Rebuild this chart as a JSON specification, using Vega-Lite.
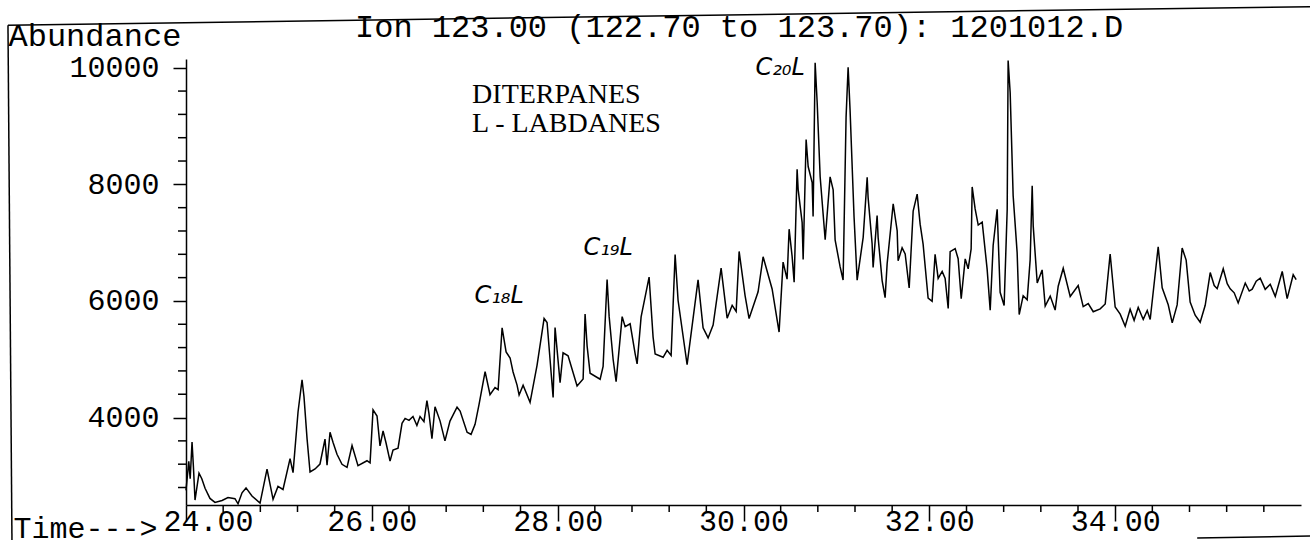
{
  "$schema": "https://vega.github.io/schema/vega-lite/v6.json",
  "width": 1115,
  "height": 446,
  "autosize": {"type": "none"},
  "padding": {"left": 186, "top": 59, "right": 9, "bottom": 35},
  "background": "white",
  "config": {"view": {"stroke": null}, "font": "Liberation Mono", "axis": {"labelOverlap": false}},
  "layer": [
    {
      "data": {
        "values": [
          {"t":24.000,"a":2750},{"t":24.030,"a":3250},{"t":24.045,"a":2950},{"t":24.065,"a":3580},{"t":24.080,"a":3150},{"t":24.097,"a":2585},{"t":24.140,"a":3045},{"t":24.170,"a":2950},{"t":24.205,"a":2786},{"t":24.258,"a":2613},{"t":24.312,"a":2545},{"t":24.388,"a":2577},{"t":24.452,"a":2627},{"t":24.527,"a":2608},{"t":24.560,"a":2521},{"t":24.603,"a":2709},{"t":24.646,"a":2793},{"t":24.710,"a":2654},{"t":24.797,"a":2533},{"t":24.872,"a":3114},{"t":24.937,"a":2598},{"t":24.990,"a":2819},{"t":25.044,"a":2766},{"t":25.120,"a":3295},{"t":25.152,"a":3055},{"t":25.206,"a":4099},{"t":25.249,"a":4648},{"t":25.270,"a":4355},{"t":25.303,"a":3635},{"t":25.335,"a":3067},{"t":25.389,"a":3119},{"t":25.442,"a":3203},{"t":25.496,"a":3630},{"t":25.518,"a":3184},{"t":25.550,"a":3748},{"t":25.582,"a":3577},{"t":25.625,"a":3369},{"t":25.679,"a":3198},{"t":25.733,"a":3145},{"t":25.787,"a":3520},{"t":25.851,"a":3175},{"t":25.948,"a":3259},{"t":25.981,"a":3223},{"t":26.013,"a":4132},{"t":26.056,"a":4027},{"t":26.088,"a":3513},{"t":26.121,"a":3769},{"t":26.153,"a":3563},{"t":26.196,"a":3253},{"t":26.228,"a":3441},{"t":26.282,"a":3474},{"t":26.325,"a":3902},{"t":26.358,"a":3986},{"t":26.400,"a":3952},{"t":26.443,"a":4019},{"t":26.485,"a":3863},{"t":26.519,"a":4017},{"t":26.561,"a":3930},{"t":26.593,"a":4290},{"t":26.615,"a":4067},{"t":26.647,"a":3637},{"t":26.680,"a":4185},{"t":26.734,"a":3943},{"t":26.787,"a":3599},{"t":26.841,"a":3940},{"t":26.917,"a":4178},{"t":26.950,"a":4110},{"t":27.025,"a":3748},{"t":27.068,"a":3712},{"t":27.111,"a":3883},{"t":27.154,"a":4225},{"t":27.219,"a":4789},{"t":27.272,"a":4393},{"t":27.326,"a":4513},{"t":27.359,"a":4477},{"t":27.402,"a":5539},{"t":27.445,"a":5126},{"t":27.488,"a":5022},{"t":27.520,"a":4782},{"t":27.563,"a":4557},{"t":27.585,"a":4386},{"t":27.628,"a":4555},{"t":27.703,"a":4262},{"t":27.778,"a":4895},{"t":27.854,"a":5699},{"t":27.886,"a":5630},{"t":27.951,"a":4343},{"t":27.972,"a":5543},{"t":28.026,"a":4598},{"t":28.058,"a":5111},{"t":28.112,"a":5059},{"t":28.209,"a":4542},{"t":28.274,"a":4660},{"t":28.295,"a":5774},{"t":28.317,"a":5226},{"t":28.349,"a":4761},{"t":28.457,"a":4657},{"t":28.489,"a":4878},{"t":28.532,"a":6369},{"t":28.554,"a":5735},{"t":28.597,"a":4996},{"t":28.629,"a":4617},{"t":28.694,"a":5731},{"t":28.726,"a":5558},{"t":28.780,"a":5608},{"t":28.834,"a":5094},{"t":28.855,"a":4921},{"t":28.898,"a":5726},{"t":28.984,"a":6410},{"t":29.027,"a":5380},{"t":29.049,"a":5089},{"t":29.135,"a":5034},{"t":29.178,"a":5154},{"t":29.221,"a":5066},{"t":29.264,"a":6798},{"t":29.296,"a":6007},{"t":29.393,"a":4909},{"t":29.511,"a":6362},{"t":29.565,"a":5538},{"t":29.619,"a":5366},{"t":29.673,"a":5587},{"t":29.759,"a":6563},{"t":29.824,"a":5704},{"t":29.878,"a":5925},{"t":29.921,"a":5822},{"t":29.953,"a":6849},{"t":30.017,"a":6093},{"t":30.060,"a":5697},{"t":30.157,"a":6158},{"t":30.211,"a":6757},{"t":30.308,"a":6206},{"t":30.383,"a":5467},{"t":30.426,"a":6666},{"t":30.469,"a":6374},{"t":30.491,"a":7231},{"t":30.523,"a":6768},{"t":30.545,"a":6323},{"t":30.577,"a":8257},{"t":30.588,"a":7914},{"t":30.631,"a":7348},{"t":30.642,"a":6712},{"t":30.674,"a":8769},{"t":30.696,"a":8306},{"t":30.739,"a":8030},{"t":30.749,"a":7447},{"t":30.771,"a":10087},{"t":30.793,"a":9400},{"t":30.825,"a":8131},{"t":30.879,"a":7050},{"t":30.932,"a":8128},{"t":30.965,"a":7905},{"t":30.986,"a":7048},{"t":31.040,"a":6583},{"t":31.072,"a":6359},{"t":31.104,"a":9153},{"t":31.126,"a":10010},{"t":31.147,"a":9271},{"t":31.190,"a":7437},{"t":31.223,"a":6357},{"t":31.288,"a":7091},{"t":31.331,"a":8119},{"t":31.341,"a":7777},{"t":31.384,"a":6986},{"t":31.395,"a":6575},{"t":31.438,"a":7465},{"t":31.449,"a":7087},{"t":31.492,"a":6350},{"t":31.524,"a":6057},{"t":31.546,"a":6640},{"t":31.611,"a":7667},{"t":31.654,"a":7202},{"t":31.664,"a":6688},{"t":31.707,"a":6911},{"t":31.740,"a":6806},{"t":31.783,"a":6223},{"t":31.826,"a":7542},{"t":31.869,"a":7831},{"t":31.901,"a":7317},{"t":31.933,"a":6974},{"t":31.987,"a":6047},{"t":32.030,"a":5994},{"t":32.062,"a":6800},{"t":32.095,"a":6386},{"t":32.138,"a":6506},{"t":32.170,"a":6385},{"t":32.203,"a":5870},{"t":32.224,"a":6846},{"t":32.278,"a":6897},{"t":32.310,"a":6724},{"t":32.343,"a":6038},{"t":32.386,"a":6722},{"t":32.418,"a":6551},{"t":32.450,"a":6892},{"t":32.461,"a":7955},{"t":32.493,"a":7578},{"t":32.526,"a":7302},{"t":32.569,"a":7353},{"t":32.622,"a":6546},{"t":32.655,"a":5841},{"t":32.687,"a":6955},{"t":32.730,"a":7571},{"t":32.762,"a":6148},{"t":32.805,"a":5923},{"t":32.838,"a":7569},{"t":32.848,"a":10123},{"t":32.870,"a":9573},{"t":32.902,"a":7807},{"t":32.945,"a":6829},{"t":32.967,"a":5766},{"t":33.010,"a":6090},{"t":33.053,"a":6021},{"t":33.085,"a":6705},{"t":33.107,"a":7974},{"t":33.118,"a":7288},{"t":33.161,"a":6309},{"t":33.214,"a":6532},{"t":33.247,"a":5913},{"t":33.301,"a":6083},{"t":33.354,"a":5843},{"t":33.387,"a":6253},{"t":33.441,"a":6560},{"t":33.516,"a":6078},{"t":33.602,"a":6265},{"t":33.656,"a":5903},{"t":33.710,"a":5954},{"t":33.764,"a":5815},{"t":33.839,"a":5865},{"t":33.893,"a":5949},{"t":33.946,"a":6805},{"t":34.000,"a":5896},{"t":34.054,"a":5774},{"t":34.108,"a":5567},{"t":34.161,"a":5858},{"t":34.204,"a":5668},{"t":34.248,"a":5889},{"t":34.302,"a":5683},{"t":34.345,"a":5836},{"t":34.377,"a":5682},{"t":34.463,"a":6930},{"t":34.506,"a":6227},{"t":34.571,"a":5934},{"t":34.614,"a":5623},{"t":34.667,"a":5932},{"t":34.721,"a":6908},{"t":34.764,"a":6700},{"t":34.807,"a":5980},{"t":34.861,"a":5755},{"t":34.915,"a":5634},{"t":34.969,"a":5925},{"t":35.023,"a":6487},{"t":35.066,"a":6265},{"t":35.098,"a":6211},{"t":35.163,"a":6553},{"t":35.206,"a":6295},{"t":35.238,"a":6208},{"t":35.281,"a":6139},{"t":35.324,"a":5966},{"t":35.400,"a":6307},{"t":35.443,"a":6170},{"t":35.475,"a":6203},{"t":35.518,"a":6340},{"t":35.561,"a":6390},{"t":35.615,"a":6199},{"t":35.669,"a":6285},{"t":35.723,"a":6078},{"t":35.798,"a":6505},{"t":35.851,"a":6040},{"t":35.916,"a":6450},{"t":35.948,"a":6364}
        ]
      },
      "mark": {"type": "line", "color": "black", "strokeWidth": 1.5, "interpolate": "linear"},
      "encoding": {
        "x": {
          "field": "t",
          "type": "quantitative",
          "scale": {"domain": [24, 36], "nice": false, "zero": false},
          "axis": {
            "title": "Time--->",
            "titleAnchor": "start",
            "titleAlign": "left",
            "titleBaseline": "alphabetic",
            "titleX": -173,
            "titleY": 32,
            "titleFont": "Liberation Mono",
            "titleFontSize": 30,
            "titleFontWeight": "normal",
            "titleColor": "black",
            "values": [24, 26, 28, 30, 32, 34],
            "format": ".2f",
            "labelFont": "Liberation Mono",
            "labelFontSize": 30,
            "labelColor": "black",
            "labelBaseline": "top",
            "labelPadding": -15,
            "labelOverlap": false,
            "labelFlush": false,
            "labelBound": false,
            "labelOffset": {"condition": {"test": "datum.value == 24", "value": 22}, "value": 0},
            "tickSize": 16,
            "tickColor": "black",
            "tickWidth": 1.5,
            "domainColor": "black",
            "domainWidth": 1.5,
            "grid": false
          }
        },
        "y": {
          "field": "a",
          "type": "quantitative",
          "scale": {"domain": [2500, 10150], "nice": false, "zero": false},
          "axis": {
            "title": "Abundance",
            "titleAngle": 0,
            "titleAlign": "left",
            "titleBaseline": "alphabetic",
            "titleX": -178,
            "titleY": -14,
            "titleFont": "Liberation Mono",
            "titleFontSize": 32,
            "titleFontWeight": "normal",
            "titleColor": "black",
            "values": [4000, 6000, 8000, 10000],
            "format": "d",
            "labelFont": "Liberation Mono",
            "labelFontSize": 30,
            "labelColor": "black",
            "labelBaseline": "middle",
            "labelPadding": 14,
            "labelOverlap": false,
            "labelFlush": false,
            "labelBound": false,
            "tickSize": 13,
            "tickColor": "black",
            "tickWidth": 1.5,
            "domainColor": "black",
            "domainWidth": 1.5,
            "grid": false
          }
        }
      }
    },
    {
      "data": {"values": [{"t":24.4},{"t":24.8},{"t":25.2},{"t":25.6},{"t":26.4},{"t":26.8},{"t":27.2},{"t":27.6},{"t":28.4},{"t":28.8},{"t":29.2},{"t":29.6},{"t":30.4},{"t":30.8},{"t":31.2},{"t":31.6},{"t":32.4},{"t":32.8},{"t":33.2},{"t":33.6},{"t":34.4},{"t":34.8},{"t":35.2},{"t":35.6}]},
      "mark": {"type": "rule", "color": "black", "strokeWidth": 1.5},
      "encoding": {"x": {"field": "t", "type": "quantitative"}, "y": {"datum": 2500}, "y2": {"datum": 2380}}
    },
    {
      "data": {"values": [{"a":2800},{"a":3200},{"a":3600},{"a":4400},{"a":4800},{"a":5200},{"a":5600},{"a":6400},{"a":6800},{"a":7200},{"a":7600},{"a":8400},{"a":8800},{"a":9200},{"a":9600}]},
      "mark": {"type": "rule", "color": "black", "strokeWidth": 1.5},
      "encoding": {"y": {"field": "a", "type": "quantitative"}, "x": {"datum": 24}, "x2": {"datum": 23.914}}
    },
    {
      "data": {"values": [{}]},
      "mark": {"type": "text", "font": "Liberation Mono", "fontSize": 32, "align": "left", "baseline": "alphabetic", "color": "black"},
      "encoding": {"x": {"datum": 25.819}, "y": {"datum": 10523}, "text": {"value": "Ion 123.00 (122.70 to 123.70): 1201012.D"}}
    },
    {
      "data": {"values": [{}]},
      "mark": {"type": "text", "font": "Liberation Serif", "fontSize": 28, "align": "left", "baseline": "alphabetic", "color": "black"},
      "encoding": {"x": {"datum": 27.079}, "y": {"datum": 9391}, "text": {"value": "DITERPANES"}}
    },
    {
      "data": {"values": [{}]},
      "mark": {"type": "text", "font": "Liberation Serif", "fontSize": 28, "align": "left", "baseline": "alphabetic", "color": "black"},
      "encoding": {"x": {"datum": 27.079}, "y": {"datum": 8894}, "text": {"value": "L - LABDANES"}}
    },
    {
      "data": {"values": [{}]},
      "mark": {"type": "text", "font": "DejaVu Sans", "fontSize": 24, "fontStyle": "italic", "align": "center", "baseline": "alphabetic", "color": "black"},
      "encoding": {"x": {"datum": 27.37}, "y": {"datum": 5963}, "text": {"value": "C₁₈L"}}
    },
    {
      "data": {"values": [{}]},
      "mark": {"type": "text", "font": "DejaVu Sans", "fontSize": 24, "fontStyle": "italic", "align": "center", "baseline": "alphabetic", "color": "black"},
      "encoding": {"x": {"datum": 28.543}, "y": {"datum": 6786}, "text": {"value": "C₁₉L"}}
    },
    {
      "data": {"values": [{}]},
      "mark": {"type": "text", "font": "DejaVu Sans", "fontSize": 24, "fontStyle": "italic", "align": "center", "baseline": "alphabetic", "color": "black"},
      "encoding": {"x": {"datum": 30.394}, "y": {"datum": 9871}, "text": {"value": "C₂₀L"}}
    },
    {
      "data": {"values": [{}]},
      "mark": {"type": "rule", "color": "black", "strokeWidth": 1.5},
      "encoding": {"x": {"datum": 22.084}, "y": {"datum": 10729}, "x2": {"datum": 36.2}, "y2": {"datum": 11050}}
    },
    {
      "data": {"values": [{}]},
      "mark": {"type": "rule", "color": "black", "strokeWidth": 1.5},
      "encoding": {"x": {"datum": 22.084}, "y": {"datum": 10729}, "x2": {"datum": 22.127}, "y2": {"datum": 1900}}
    },
    {
      "data": {"values": [{}]},
      "mark": {"type": "rule", "color": "black", "strokeWidth": 1.5},
      "encoding": {"x": {"datum": 34.883}, "y": {"datum": 1934}, "x2": {"datum": 36.2}, "y2": {"datum": 1969}}
    }
  ]
}
